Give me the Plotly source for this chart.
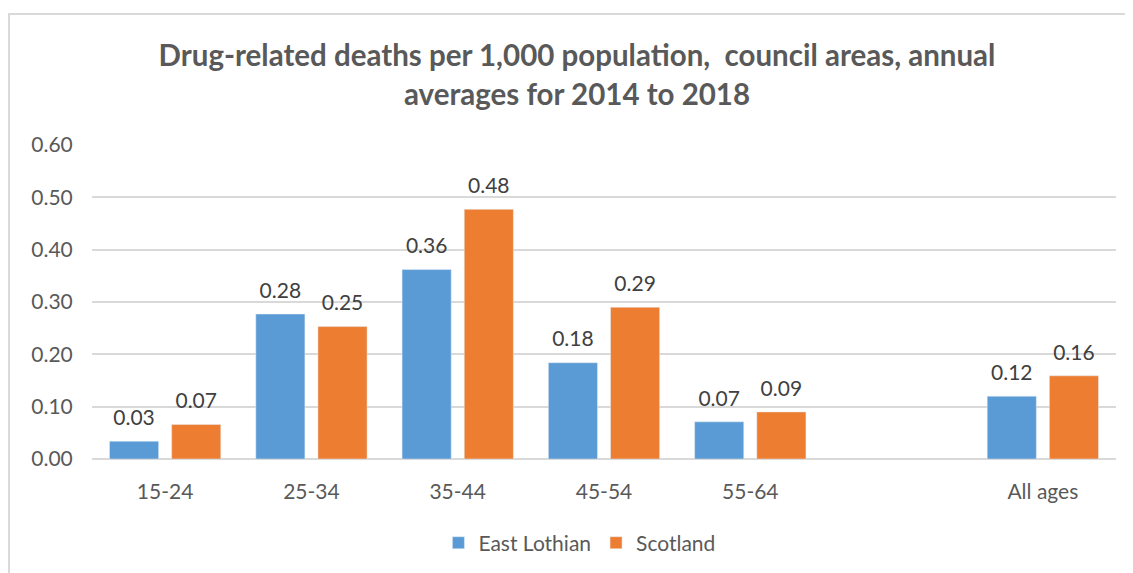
import plotly.graph_objects as go

categories = ["15-24", "25-34", "35-44", "45-54", "55-64", " ", "All ages"]
east_lothian = [0.034, 0.277, 0.362, 0.184, 0.071, None, 0.120]
scotland = [0.066, 0.253, 0.477, 0.290, 0.090, None, 0.159]
y_ticks = [0.0, 0.1, 0.2, 0.3, 0.4, 0.5, 0.6]

FONT = "Lato, 'Open Sans', sans-serif"
GREY = "#595959"
LABEL = "#404040"

fig = go.Figure()
fig.add_bar(name="East Lothian", x=categories, y=east_lothian, marker_color="#5B9BD5")
fig.add_bar(name="Scotland", x=categories, y=scotland, marker_color="#ED7D31")

# value labels (grouped scatter so they sit above each bar)
for name, vals in [("East Lothian", east_lothian), ("Scotland", scotland)]:
    fig.add_scatter(x=categories, y=vals, mode="markers+text", showlegend=False,
                    marker=dict(size=16, color="rgba(0,0,0,0)"),
                    texttemplate="%{y:.2f}", textposition="top center",
                    textfont=dict(size=21, color=LABEL, family=FONT),
                    cliponaxis=False, hoverinfo="skip", name=name + " labels")

fig.update_layout(
    width=1125, height=565,
    margin=dict(l=84, r=17, t=137, b=114, autoexpand=False),
    paper_bgcolor="white", plot_bgcolor="white",
    font=dict(family=FONT, color=GREY, size=21),
    title=dict(text="<b>Drug-related deaths per 1,000 population,  council areas, annual<br>averages for 2014 to 2018</b>",
               x=0.5058, xanchor="center", y=0.897, yanchor="top",
               font=dict(size=29.5, color=GREY, family=FONT)),
    barmode="group", bargap=0.15, bargroupgap=0.21,
    scattermode="group", scattergap=0.15,
    showlegend=True,
    legend=dict(orientation="h", x=0.476, xanchor="center", yref="container", y=0.053,
                yanchor="middle", font=dict(size=21, color=GREY), traceorder="normal"),
    xaxis=dict(type="category", categoryorder="array", categoryarray=categories,
               showgrid=False, showline=False, ticks="outside", ticklen=14, tickcolor="white",
               tickfont=dict(size=21, color=GREY), automargin=False),
    yaxis=dict(range=[0, 0.6], tickvals=y_ticks, tickformat=".2f", showgrid=True,
               gridcolor="#D9D9D9", gridwidth=2, zeroline=True, zerolinecolor="#D9D9D9",
               zerolinewidth=2, showline=False, ticks="outside", ticklen=14, tickcolor="white",
               tickfont=dict(size=21, color=GREY), automargin=False),
    shapes=[dict(type="rect", xref="paper", yref="paper", x0=-0.081, x1=1.2, y0=-0.6, y1=1.417,
                 line=dict(color="#D9D9D9", width=2), fillcolor="rgba(0,0,0,0)", layer="below")],
)

fig.write_html("out.html")
